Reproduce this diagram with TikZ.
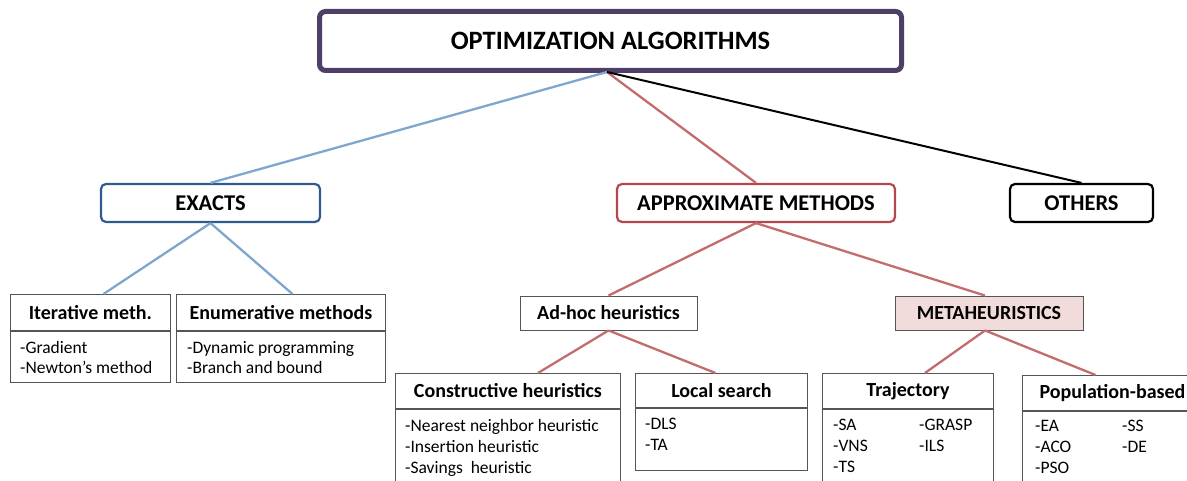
\documentclass[tikz,border=0pt]{standalone}
\usepackage{fontspec}
\setmainfont{Carlito}
\definecolor{rootcol}{HTML}{4E3F68}
\definecolor{exactcol}{HTML}{2F5C8C}
\definecolor{exactline}{HTML}{7FA6CF}
\definecolor{approxcol}{HTML}{B4474E}
\definecolor{approxline}{HTML}{C26C6E}
\definecolor{boxcol}{HTML}{555555}
\definecolor{metafill}{HTML}{F2DCDB}
\begin{document}
\begin{tikzpicture}[x=1pt,y=-1pt,
  topbox/.style={draw, rounded corners=6pt, align=center, inner sep=0pt, font=\bfseries},
  catbox/.style={draw, line width=2.2pt, rounded corners=5pt, inner sep=0pt,
    minimum height=38pt, font=\bfseries\fontsize{22.5}{26}\selectfont},
  plainbox/.style={draw=boxcol, line width=0.9pt, inner sep=0pt, minimum height=34pt,
    font=\bfseries\fontsize{20}{24}\selectfont},
  headbox/.style={draw=boxcol, line width=0.9pt, inner sep=0pt, anchor=north west,
    font=\bfseries\fontsize{20}{24}\selectfont},
  bodybox/.style={draw=boxcol, line width=0.9pt, inner sep=0pt, anchor=north},
  items/.style={anchor=north west, align=left, inner sep=0pt,
    font=\fontsize{17.5}{21}\selectfont},
  exactlink/.style={draw=exactline, line width=2.3pt},
  approxlink/.style={draw=approxline, line width=2.3pt},
  otherlink/.style={draw=black, line width=2pt}
]
\useasboundingbox (0,0) rectangle (1187,481);
\clip (0,0) rectangle (1187,481);

% root
\node[topbox, draw=rootcol, line width=5pt, minimum width=582pt, minimum height=59pt,
  font=\bfseries\fontsize{26.5}{30}\selectfont] (root) at (610.5,41) {OPTIMIZATION ALGORITHMS};
\coordinate (rootb) at (607,72);

% main categories
\node[catbox, draw=exactcol, minimum width=219pt] (exact) at (210.5,203) {EXACTS};
\node[catbox, draw=approxcol, minimum width=278pt] (approx) at (756,203) {APPROXIMATE METHODS};
\node[catbox, draw=black, minimum width=143pt] (others) at (1081.5,203) {OTHERS};

% exact methods
\node[headbox, minimum width=160pt, minimum height=36pt] (iterH) at (10,294) {Iterative meth.};
\node[bodybox, minimum width=160pt, minimum height=51pt] (iterB) at (iterH.south) {};
\node[items, xshift=10pt, yshift=-10pt, font=\fontsize{17.5}{20}\selectfont] (iterT) at (iterB.north west) {-Gradient\\-Newton’s method};

\node[headbox, minimum width=209pt, minimum height=36pt] (enumH) at (176,294) {Enumerative methods};
\node[bodybox, minimum width=209pt, minimum height=51pt] (enumB) at (enumH.south) {};
\node[items, xshift=11pt, yshift=-10pt, font=\fontsize{17.5}{20}\selectfont] (enumT) at (enumB.north west) {-Dynamic programming\\-Branch and bound};

% approximate methods
\node[plainbox, minimum width=177pt] (adhoc) at (608.5,313) {Ad-hoc heuristics};
\node[plainbox, fill=metafill, minimum width=188pt] (meta) at (989,313) {METAHEURISTICS};

% ad-hoc heuristics
\node[headbox, minimum width=225pt, minimum height=35pt] (consH) at (395,373) {Constructive heuristics};
\node[bodybox, minimum width=225pt, minimum height=80pt] (consB) at (consH.south) {};
\node[items, xshift=10pt, yshift=-10.5pt] (consT) at (consB.north west)
  {-Nearest neighbor heuristic\\-Insertion heuristic\\-Savings\ \ heuristic};

\node[headbox, minimum width=172pt, minimum height=34pt] (lsH) at (635,373) {Local search};
\node[bodybox, minimum width=172pt, minimum height=62pt] (lsB) at (lsH.south) {};
\node[items, xshift=10pt, yshift=-10.5pt] (lsT) at (lsB.north west) {-DLS\\-TA};

% metaheuristics
\node[headbox, minimum width=171pt, minimum height=35pt] (trajH) at (822,373) {Trajectory};
\node[bodybox, minimum width=171pt, minimum height=80pt] (trajB) at (trajH.south) {};
\node[items, xshift=11pt, yshift=-10.5pt] (trajL) at (trajB.north west) {-SA\\-VNS\\-TS};
\node[items, xshift=97pt, yshift=-10.5pt] (trajR) at (trajB.north west) {-GRASP\\-ILS};

\node[headbox, minimum width=180pt, minimum height=35pt] (popH) at (1022,375) {Population-based};
\node[bodybox, minimum width=180pt, minimum height=80pt] (popB) at (popH.south) {};
\node[items, xshift=13pt, yshift=-9pt] (popL) at (popB.north west) {-EA\\-ACO\\-PSO};
\node[items, xshift=100pt, yshift=-9pt] (popR) at (popB.north west) {-SS\\-DE};

% connectors
\draw[exactlink] (rootb) -- (exact.north);
\draw[approxlink] (rootb) -- (approx.north);
\draw[otherlink] (rootb) -- (others.north);

\draw[exactlink] (exact.south) -- ([xshift=13pt]iterH.north);
\draw[exactlink] (exact.south) -- ([xshift=11.5pt]enumH.north);

\draw[approxlink] (approx.south) -- (adhoc.north);
\draw[approxlink] (approx.south) -- ([xshift=-4pt]meta.north);

\draw[approxlink] (adhoc.south) -- ([xshift=30pt]consH.north);
\draw[approxlink] (adhoc.south) -- ([xshift=-6pt]lsH.north);

\draw[approxlink] ([xshift=-4pt]meta.south) -- ([xshift=17pt]trajH.north);
\draw[approxlink] ([xshift=-4pt]meta.south) -- ([xshift=-17pt]popH.north);
\end{tikzpicture}
\end{document}
